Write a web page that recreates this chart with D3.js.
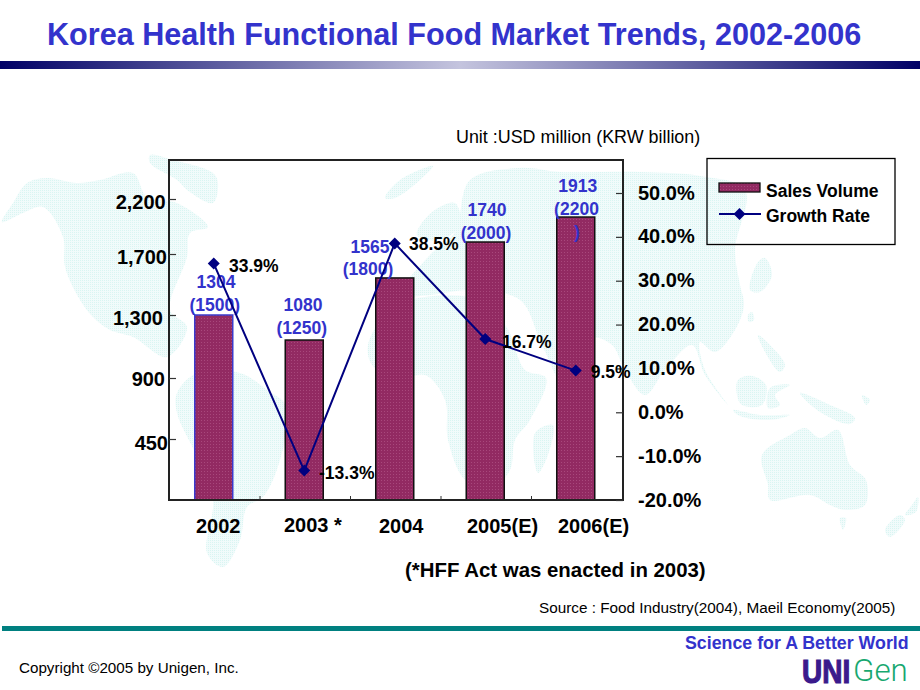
<!DOCTYPE html>
<html><head><meta charset="utf-8">
<script src="https://cdn.jsdelivr.net/npm/d3@7/dist/d3.min.js"></script>
<style>html,body{margin:0;padding:0;background:#fff}svg{display:block}text{font-family:"Liberation Sans",Arial,sans-serif}</style>
</head><body><svg id="c" width="920" height="690"></svg>
<script>
// ---- data ----
const categories = ["2002","2003","2004","2005","2006"];
const categoryLabels = ["2002","2003 *","2004","2005(E)","2006(E)"];
const plottedSales = [1300,1141,1543,1809,2036];   // bar heights as read against the left axis
const salesUSD = ["1304","1080","1565","1740","1913"];
const salesKRW = ["(1500)","(1250)","(1800)","(2000)","(2200"];
const growthRate = [33.9,-13.3,38.5,16.7,9.5];
const growthLabels = ["33.9%","-13.3%","38.5%","16.7%","9.5%"];
const leftTicks = [450,900,1300,1700,2200];
const leftTickLabels = ["450","900","1,300","1,700","2,200"];
const rightTicks = [-20,-10,0,10,20,30,40,50];

// ---- layout of hand-placed text, kept apart from the data ----
const leftLabelPos = [[168,450],[165,386],[163,325],[167,264],[165.7,209]];
const catLabelPos = [[196,533],[284,532],[379,533],[467,533],[558,533]];
const usdPos = [[216,288],[303,311],[370,253],[487,216],[577.7,192]];
const krwPos = [[214.7,311],[301.7,334],[368,275],[486,239],[576.5,215]];
const pctPos = [[229,272],[319,479],[409,250],[502,348],[590.7,378]];

// pale world map in page coordinates
const mapShapes = [
 [[2,222],[13,203],[27,183],[47,178],[77,183],[100,180],[133,173],[147,197],[177,203],[208,227],[190,233],[187,257],[170,310],[187,327],[167,357],[133,337],[110,330],[93,317],[80,300],[65,267],[63,237],[43,207],[23,213]],
 [[150,155],[173,160],[213,173],[218,183],[213,203],[187,190],[177,180],[150,163]],
 [[177,393],[197,373],[240,373],[267,390],[287,407],[280,460],[263,497],[247,507],[240,540],[223,567],[207,553],[213,500],[197,457],[177,413]],
 [[368,345],[385,315],[410,300],[470,298],[480,310],[505,325],[525,370],[546,378],[530,420],[515,440],[510,470],[490,490],[465,480],[448,440],[445,400],[425,375],[395,380],[372,365]],
 [[535,433],[553,425],[548,455],[538,473]],
 [[385,198],[400,180],[433,166],[420,180],[395,198]],
 [[417,235],[432,212],[455,203],[460,225],[440,240]],
 [[400,295],[430,255],[455,232],[470,180],[520,168],[560,172],[640,172],[700,176],[745,190],[735,250],[740,285],[744,305],[735,330],[715,352],[700,342],[705,370],[728,405],[705,375],[692,345],[665,370],[645,395],[625,370],[612,345],[592,338],[565,385],[542,345],[520,300],[470,290],[430,295]],
 [[758,262],[765,258],[772,275],[760,292],[750,290]],
 [[748,315],[752,312],[754,320],[749,322]],
 [[758,335],[770,345],[785,365],[780,372],[765,352]],
 [[738,380],[752,376],[766,385],[762,405],[742,405],[737,395]],
 [[770,388],[790,385],[775,395],[780,405],[768,408]],
 [[800,393],[830,405],[855,418],[850,424],[820,412]],
 [[733,410],[760,415],[790,415],[770,420],[740,416]],
 [[762,455],[790,435],[805,428],[820,438],[838,430],[850,465],[866,480],[865,505],[845,510],[830,505],[810,495],[770,500],[768,485]],
 [[840,518],[846,518],[843,530]],
 [[885,530],[900,515],[905,520],[890,537]],
 [[905,515],[912,505],[918,497],[916,512]],
 [[862,395],[870,400],[866,405]]
];

const svg = d3.select("#c");
const defs = svg.append("defs");

// ---- patterned fills ----
const mapPat = defs.append("pattern").attr("id","mapFill").attr("width",2).attr("height",2).attr("patternUnits","userSpaceOnUse");
mapPat.append("rect").attr("width",2).attr("height",2).attr("fill","#f1fbfb");
mapPat.append("rect").attr("width",1).attr("height",1).attr("fill","#d9f5f2");
const barPat = defs.append("pattern").attr("id","barFill").attr("width",3).attr("height",3).attr("patternUnits","userSpaceOnUse");
barPat.append("rect").attr("width",3).attr("height",3).attr("fill","#922a62");
barPat.append("rect").attr("width",1).attr("height",1).attr("fill","#a8487c");
const grad = defs.append("linearGradient").attr("id","rule");
[[0,"#000066"],[0.5,"#c4c4de"],[1,"#000066"]].forEach(s=>grad.append("stop").attr("offset",s[0]).attr("stop-color",s[1]));

// ---- background map ----
const mapLine = d3.line().curve(d3.curveCatmullRomClosed.alpha(0.5));
svg.append("g").selectAll("path").data(mapShapes).join("path").attr("d",mapLine).attr("fill","url(#mapFill)");

// ---- slide furniture ----
svg.append("text").attr("x",47).attr("y",45).attr("font-size",30.6).attr("font-weight","bold").attr("fill","#3333cc")
  .text("Korea Health Functional Food Market Trends, 2002-2006");
svg.append("rect").attr("x",0).attr("y",61).attr("width",920).attr("height",8).attr("fill","url(#rule)");
svg.append("rect").attr("x",2).attr("y",626).attr("width",918).attr("height",5).attr("fill","#008080");
svg.append("text").attr("x",456).attr("y",143).attr("font-size",17.9).attr("fill","#000").text("Unit :USD million (KRW billion)");
svg.append("text").attr("x",405).attr("y",577).attr("font-size",20.4).attr("font-weight","bold").attr("fill","#000").text("(*HFF Act was enacted in 2003)");
svg.append("text").attr("x",539).attr("y",613).attr("font-size",15.3).attr("fill","#000").text("Source : Food Industry(2004), Maeil Economy(2005)");
svg.append("text").attr("x",685).attr("y",649).attr("font-size",17.8).attr("font-weight","bold").attr("fill","#3333cc").text("Science for A Better World");
svg.append("text").attr("x",19).attr("y",673).attr("font-size",15.2).attr("fill","#000").text("Copyright ©2005 by Unigen, Inc.");
svg.append("text").attr("transform","translate(802,683) scale(1,1.2)").attr("font-size",28).attr("font-weight","bold")
  .attr("fill","#3b1a8c").attr("stroke","#3b1a8c").attr("stroke-width",1).text("UNI");
svg.append("text").attr("transform","translate(853,681) scale(1.08,1.1)").attr("font-size",29).attr("font-weight",300)
  .attr("fill","#18a870").style("font-family","Roboto").text("Gen");

// ---- scales ----
const x = d3.scaleBand().domain(categories).range([168.5,621]).paddingInner(0.58).paddingOuter(0.29);
const xStep = x.step();
const yLeft = d3.scaleLinear().domain([0,450,900,1300,1700,2200]).range([500,439,378,315,254,199]);
const yRight = d3.scaleLinear().domain([-20,50]).range([500,193]);

// ---- bars ----
svg.append("g").selectAll("rect").data(categories).join("rect")
  .attr("x",d=>x(d)).attr("width",x.bandwidth())
  .attr("y",(d,i)=>yLeft(plottedSales[i])).attr("height",(d,i)=>yLeft(0)-yLeft(plottedSales[i]))
  .attr("fill","url(#barFill)").attr("stroke",(d,i)=>i===0?"#3a3acc":"#111").attr("stroke-width",1.5);

// ---- plot frame and axes ----
svg.append("rect").attr("x",169).attr("y",160).attr("width",454).attr("height",340).attr("fill","none").attr("stroke","#222").attr("stroke-width",2);

const gl = svg.append("g").attr("transform","translate(169,0)")
  .call(d3.axisRight(yLeft).tickValues(leftTicks).tickSize(7).tickFormat(""));
gl.select(".domain").remove();
gl.selectAll("line").attr("stroke","#333").attr("stroke-width",1.2);

const gr = svg.append("g").attr("transform","translate(623,0)")
  .call(d3.axisLeft(yRight).tickValues(rightTicks).tickSize(7).tickFormat(""));
gr.select(".domain").remove();
gr.selectAll("line").attr("stroke","#333").attr("stroke-width",1.2);

const boundaries = categories.slice(1);
const gb = svg.append("g").attr("transform","translate(0,500)");
gb.selectAll("line").data(boundaries).join("line")
  .attr("x1",d=>x(d)+x.bandwidth()/2-xStep/2+1).attr("x2",d=>x(d)+x.bandwidth()/2-xStep/2+1)
  .attr("y1",0).attr("y2",-4).attr("stroke","#333").attr("stroke-width",1);

// ---- axis labels ----
const bold = (g,size)=>g.attr("font-size",size).attr("font-weight","bold");
svg.append("g").call(g=>bold(g,20)).selectAll("text").data(leftTickLabels).join("text")
  .attr("text-anchor","end").attr("x",(d,i)=>leftLabelPos[i][0]).attr("y",(d,i)=>leftLabelPos[i][1]).text(d=>d);
svg.append("g").call(g=>bold(g,20)).selectAll("text").data(rightTicks).join("text")
  .attr("x",638).attr("y",d=>yRight(d)+6.5).text(d=>d.toFixed(1)+"%");
svg.append("g").call(g=>bold(g,20)).selectAll("text").data(categoryLabels).join("text")
  .attr("x",(d,i)=>catLabelPos[i][0]).attr("y",(d,i)=>catLabelPos[i][1]).text(d=>d);

// ---- blue value labels ----
const blue = svg.append("g").call(g=>bold(g,17.5)).attr("fill","#3333cc").attr("text-anchor","middle");
blue.selectAll("text.usd").data(salesUSD).join("text").attr("class","usd")
  .attr("x",(d,i)=>usdPos[i][0]).attr("y",(d,i)=>usdPos[i][1]).text(d=>d);
blue.selectAll("text.krw").data(salesKRW).join("text").attr("class","krw")
  .attr("x",(d,i)=>krwPos[i][0]).attr("y",(d,i)=>krwPos[i][1]).text(d=>d);
blue.append("text").attr("x",577).attr("y",238).text(")");

// ---- growth line ----
const cx = d=>x(d)+x.bandwidth()/2;
const line = d3.line().x(d=>cx(d)).y((d,i)=>yRight(growthRate[i]));
svg.append("path").attr("d",line(categories)).attr("fill","none").attr("stroke","#000080").attr("stroke-width",2);
const diamond = "M0,-6L6,0L0,6L-6,0Z";
svg.append("g").selectAll("path").data(categories).join("path").attr("d",diamond).attr("fill","#000080")
  .attr("transform",(d,i)=>`translate(${cx(d)},${yRight(growthRate[i])})`);
svg.append("g").call(g=>bold(g,17.5)).selectAll("text").data(growthLabels).join("text")
  .attr("x",(d,i)=>pctPos[i][0]).attr("y",(d,i)=>pctPos[i][1]).text(d=>d);

// ---- legend ----
const lg = svg.append("g");
lg.append("rect").attr("x",707).attr("y",158.5).attr("width",188).attr("height",86).attr("fill","none").attr("stroke","#000").attr("stroke-width",1.3);
lg.append("rect").attr("x",719).attr("y",183).attr("width",41).attr("height",9).attr("fill","url(#barFill)").attr("stroke","#111").attr("stroke-width",1.3);
lg.append("line").attr("x1",719).attr("x2",761).attr("y1",214).attr("y2",214).attr("stroke","#000080").attr("stroke-width",2);
lg.append("path").attr("d",diamond).attr("fill","#000080").attr("transform","translate(739.5,214)");
lg.append("text").attr("x",766).attr("y",197).call(g=>bold(g,17.5)).text("Sales Volume");
lg.append("text").attr("x",766).attr("y",222).call(g=>bold(g,17.5)).text("Growth Rate");
</script></body></html>
